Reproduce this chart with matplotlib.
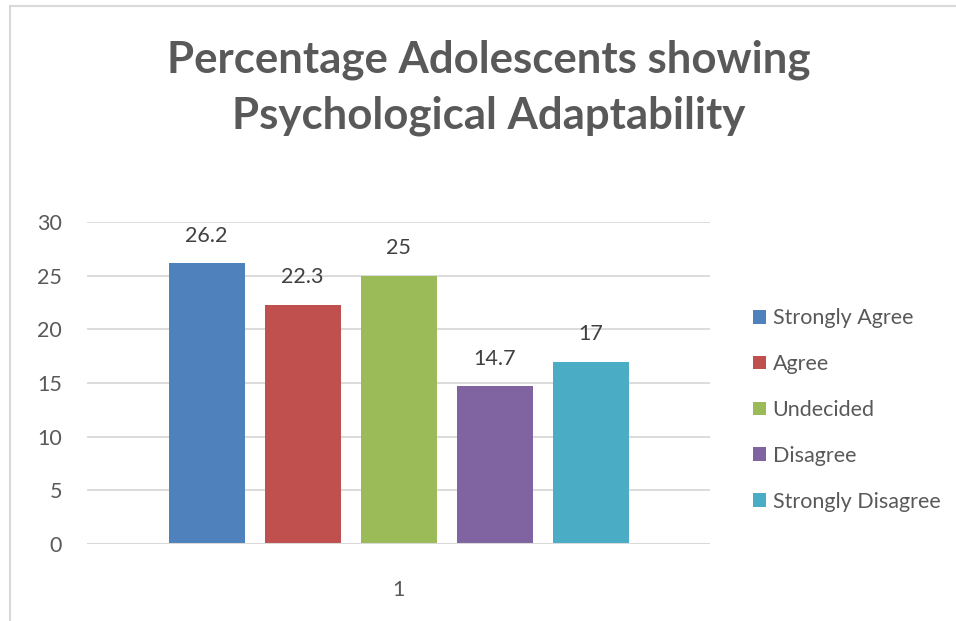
import matplotlib
matplotlib.use("Agg")
import matplotlib.pyplot as plt
from matplotlib.lines import Line2D
from matplotlib.patches import Patch

plt.rcParams['font.family'] = ['Lato', 'DejaVu Sans']

categories = ["Strongly Agree", "Agree", "Undecided", "Disagree", "Strongly Disagree"]
values = [26.2, 22.3, 25, 14.7, 17]
colors = ["#4F81BD", "#C0504D", "#9BBB59", "#8064A2", "#4BACC6"]
x_label = "1"
y_ticks = [0, 5, 10, 15, 20, 25, 30]
title_lines = ["Percentage Adolescents showing", "Psychological Adaptability"]

fig = plt.figure(figsize=(9.56, 6.21), dpi=100)
W, H = 956, 621
ax = fig.add_axes([87 / W, 1 - 544 / H, (710 - 87) / W, (544 - 222) / H])

step = 96 / 623
width = 76 / 623
n = len(values)
fs = 15.5
for i, (cat, v, c) in enumerate(zip(categories, values, colors)):
    xc = 1 + (i - (n - 1) / 2) * step
    ax.bar(xc, v, width=width, color=c, label=cat, zorder=3)
    ax.text(xc, v + 1.6, f"{v:g}", ha="center", va="bottom",
            fontsize=fs, color="#404040")

ax.set_xlim(0.5, 1.5)
ax.set_ylim(0, 30)
ax.set_yticks(y_ticks)
ax.set_xticks([1])
ax.set_xticklabels([x_label])
ax.yaxis.grid(True, color="#D9D9D9", linewidth=1.3, zorder=0)
for s in ax.spines.values():
    s.set_visible(False)
ax.axhline(0, color="#D9D9D9", linewidth=1.5, zorder=4)
ax.tick_params(axis="both", length=0, labelsize=fs, colors="#595959")
ax.tick_params(axis="y", pad=18)
ax.tick_params(axis="x", pad=26)

# two-line title, one baseline per line
for line, base in zip(title_lines, [72, 129]):
    fig.text(489 / W, 1 - base / H, line, ha="center", va="baseline",
             fontsize=31.5, fontweight="bold", color="#595959")

handles = [Patch(facecolor=c, edgecolor="none") for c in colors]
leg = fig.legend(handles, categories, loc="center left",
                 bbox_to_anchor=(734 / W, 1 - 410 / H), frameon=False,
                 fontsize=fs, labelcolor="#595959", handlelength=0.6,
                 handleheight=0.6, handletextpad=0.3, labelspacing=1.2)

# chart-area border (top and left edges)
fig.add_artist(Line2D([9.5 / W, 1], [1 - 6 / H, 1 - 6 / H], color="#D9D9D9", linewidth=1.5))
fig.add_artist(Line2D([9.5 / W, 9.5 / W], [0, 1 - 6 / H], color="#D9D9D9", linewidth=1.5))

fig.savefig("out.png", dpi=100)
